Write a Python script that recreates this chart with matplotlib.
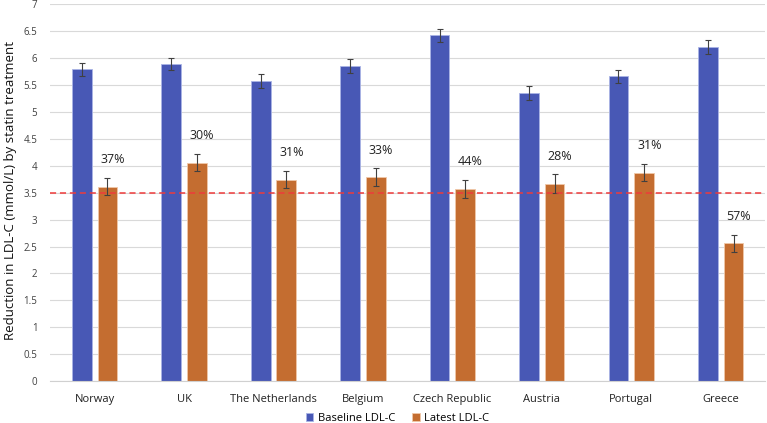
import numpy as np
import matplotlib.pyplot as plt

# ----------------------------
# Data
# ----------------------------
countries = ["Norway", "UK", "The Netherlands", "Belgium",
             "Czech Republic", "Austria", "Portugal", "Greece"]
baseline = [5.79, 5.89, 5.57, 5.86, 6.42, 5.35, 5.66, 6.21]
baseline_err = [0.12, 0.12, 0.13, 0.13, 0.12, 0.13, 0.12, 0.13]
latest = [3.61, 4.06, 3.74, 3.79, 3.57, 3.67, 3.87, 2.56]
latest_err = [0.16, 0.16, 0.16, 0.16, 0.17, 0.17, 0.16, 0.16]
reduction = ["37%", "30%", "31%", "33%", "44%", "28%", "31%", "57%"]
target = 3.5

BLUE = "#4858b5"
ORANGE = "#c46d30"


def main():
    plt.rcParams["font.family"] = ["Open Sans", "DejaVu Sans"]
    fig = plt.figure(figsize=(7.67, 4.23), dpi=100)
    ax = fig.add_axes([0.065, 0.099, 0.933, 0.891])

    x = np.arange(len(countries))
    w = 0.22
    off = 0.143

    ax.bar(x - off, baseline, w, color=BLUE, edgecolor="#aab4e6",
           linewidth=0.6, label="Baseline LDL-C", zorder=2)
    ax.bar(x + off, latest, w, color=ORANGE, edgecolor="#f0c8a8",
           linewidth=0.6, label="Latest LDL-C", zorder=2)
    ax.errorbar(x - off, baseline, yerr=baseline_err, fmt="none",
                ecolor="#404040", elinewidth=0.8, capsize=2.5,
                capthick=0.8, zorder=3)
    ax.errorbar(x + off, latest, yerr=latest_err, fmt="none",
                ecolor="#404040", elinewidth=0.8, capsize=2.5,
                capthick=0.8, zorder=3)

    # reduction labels above the latest bars
    for xi, v, lab in zip(x, latest, reduction):
        ax.text(xi + off + 0.06, v + 0.5, lab, ha="center", va="center",
                fontsize=9, color="#222222", zorder=4)

    ax.axhline(target, color="#ee3b3b", linestyle=(0, (4, 2.5)),
               linewidth=1.1, zorder=3)

    ax.set_xlim(-0.5, len(countries) - 0.5)
    ax.set_ylim(0, 7)
    ticks = np.arange(0, 7.01, 0.5)
    ax.set_yticks(ticks)
    ax.set_yticklabels([f"{t:g}" for t in ticks])
    ax.set_xticks(x)
    ax.set_xticklabels(countries)
    ax.tick_params(axis="y", length=0, labelsize=7, colors="#404040", pad=9)
    ax.tick_params(axis="x", length=0, labelsize=8, colors="#222222", pad=9)

    ax.grid(axis="y", color="#d9d9d9", linewidth=0.8, zorder=0)
    ax.set_axisbelow(True)
    for s in ["top", "right", "left"]:
        ax.spines[s].set_visible(False)
    ax.spines["bottom"].set_color("#d0d0d0")

    fig.text(0.014, 0.55, "Reduction in LDL-C (mmol/L) by statin treatment",
             rotation=90, ha="center", va="center", fontsize=9.5,
             color="#111111")

    handles, labels = ax.get_legend_handles_labels()
    fig.legend(handles, labels, loc="center", bbox_to_anchor=(0.518, 0.01),
               ncol=2, frameon=False, fontsize=8, handlelength=0.7,
               handleheight=0.7, columnspacing=1.5, handletextpad=0.4,
               borderaxespad=0, borderpad=0)

    fig.savefig("out.png", dpi=100)


if __name__ == "__main__":
    main()
